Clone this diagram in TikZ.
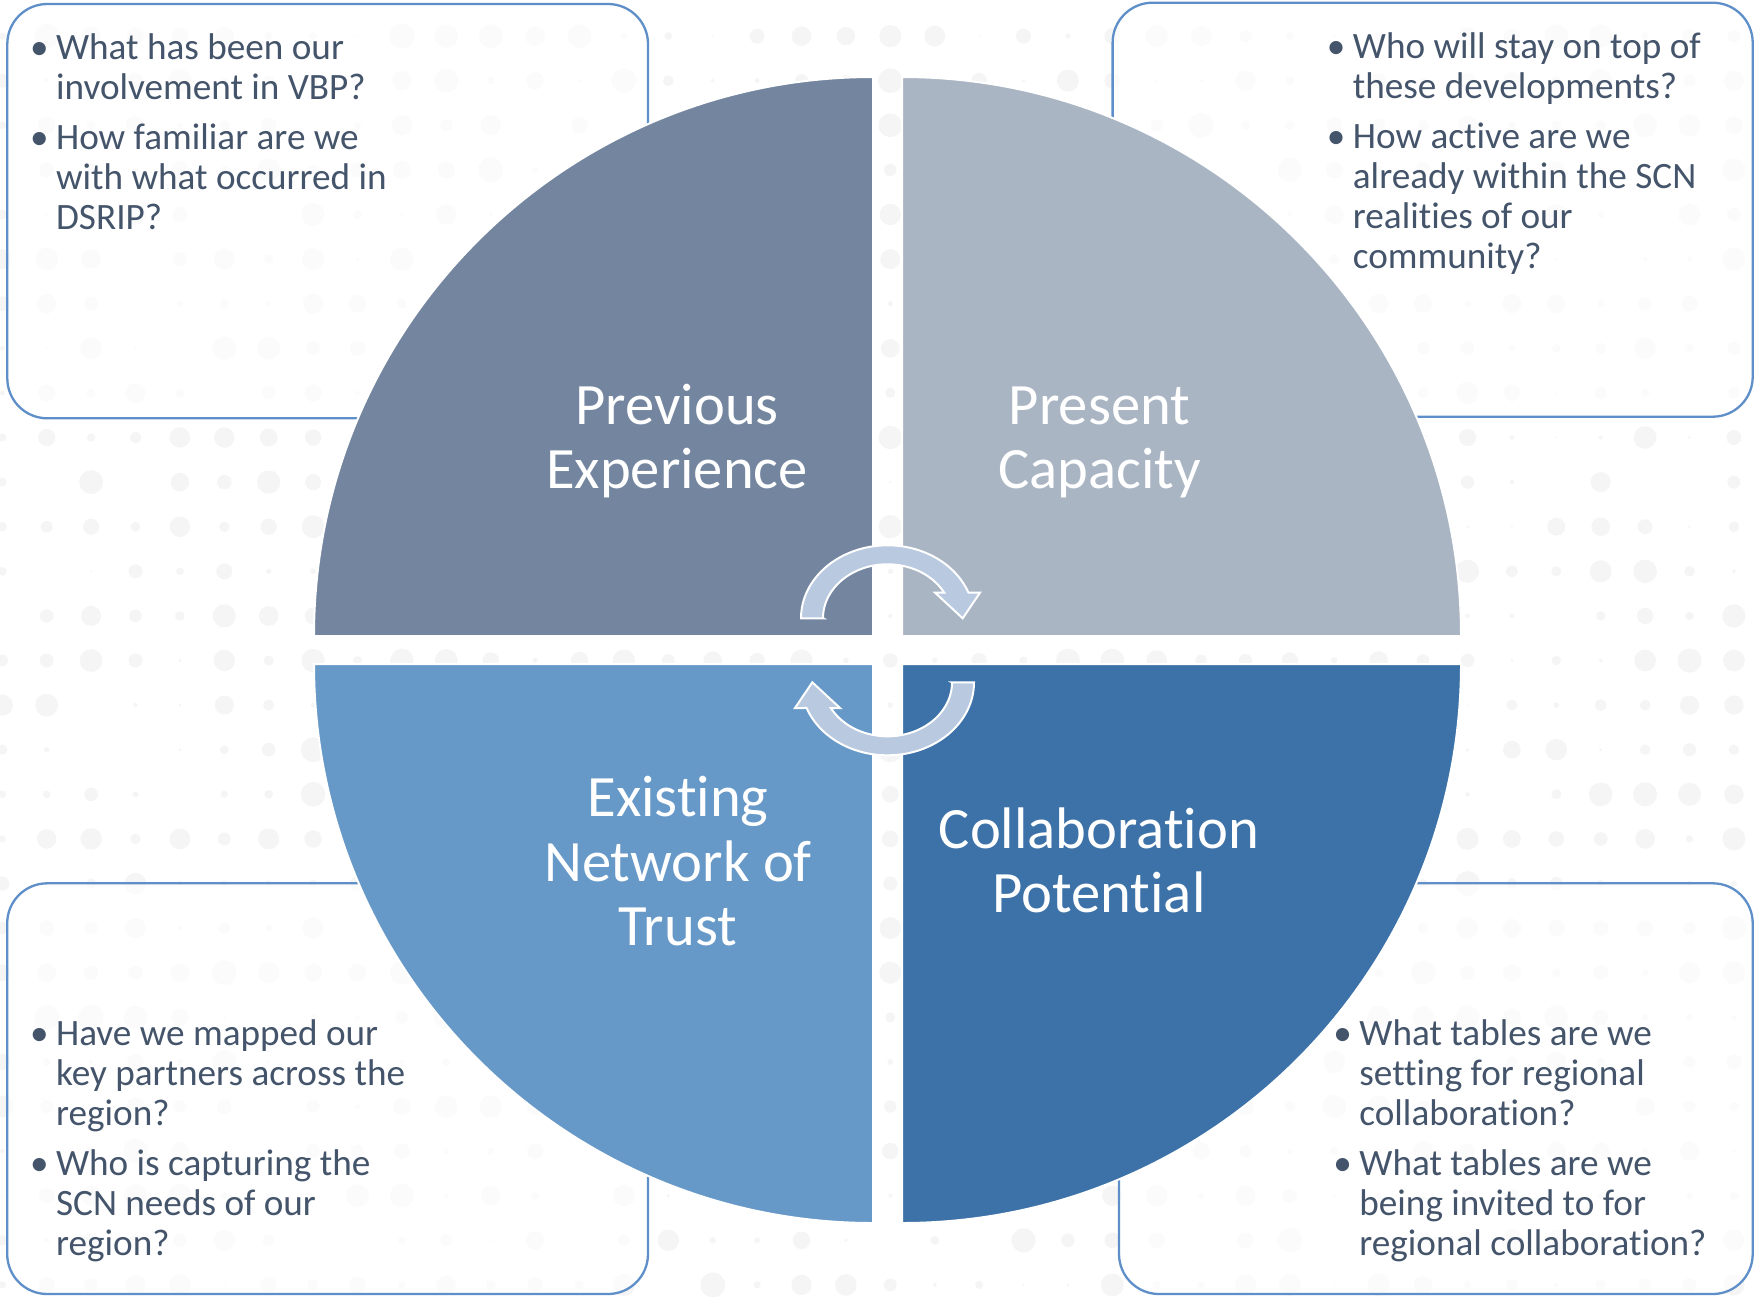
\documentclass[tikz,border=0pt]{standalone}
\usepackage{fontspec}
\setmainfont{Carlito}[Ligatures=NoCommon]
\definecolor{qslate}{HTML}{74869F}
\definecolor{qsilver}{HTML}{AAB5C4}
\definecolor{qsky}{HTML}{6799C8}
\definecolor{qnavy}{HTML}{3D72A8}
\definecolor{arrowfill}{HTML}{B8C9E0}
\definecolor{frameblue}{HTML}{5F8FC8}
\definecolor{bodytext}{HTML}{44546A}
\definecolor{dotgray}{HTML}{F5F5F5}

% question lists: one bullet per paragraph, manual line breaks
\newcommand{\qstyle}{\fontsize{18.6pt}{20pt}\selectfont\setlength{\parindent}{0pt}\setlength{\parskip}{5pt}}
\newcommand{\qitem}{\leavevmode\llap{\makebox[16.8pt][c]{•}}}
\newcommand{\qlist}[1]{\parbox[t]{300pt}{\qstyle #1}}
\newcommand{\qlabel}[1]{\begin{tabular}[t]{@{}c@{}}#1\end{tabular}}

\begin{document}
\begin{tikzpicture}[x=0.5pt,y=0.5pt,
  questionbox/.style={draw=frameblue, line width=1.15pt, fill=white, fill opacity=0.65, rounded corners=20pt},
  quarter/.style={draw=white, line width=1pt},
  quadlabel/.style={text=white, font=\fontsize{29.3pt}{32.3pt}\selectfont, inner sep=0pt, anchor=base},
  questions/.style={text=bodytext, inner sep=0pt, anchor=base west},
  cyclearrow/.style={fill=arrowfill, draw=white, line width=1pt, line join=miter},
  turnarrow/.pic={
    \filldraw[cyclearrow] (-64.5,0) -- (-86.5,0)
      arc[start angle=180, end angle=20.6, x radius=86.5, y radius=73]
      -- (92.5,25.7) -- (75.2,0) -- (47.5,25.7) -- (56.7,25.7)
      arc[start angle=28.4, end angle=180, x radius=64.5, y radius=54] -- cycle;
  }
]
\useasboundingbox (0,0) rectangle (1754,-1296);
\fill[white] (0,0) rectangle (1754,-1296);

% dotted backdrop
\pgfmathsetseed{4242}
\foreach \i in {0,...,39}{
  \foreach \j in {0,...,28}{
    \pgfmathsetmacro{\dotrad}{12.5*rnd}
    \fill[dotgray] (2.3+44.4*\i,-36.1-44.6*\j) circle[radius=\dotrad];
  }
}

% question frames
\draw[questionbox] (7.3,-4) rectangle (648,-418.3);
\draw[questionbox] (1112.6,-2.7) rectangle (1752.7,-416.7);
\draw[questionbox] (7.2,-883.3) rectangle (648,-1294);
\draw[questionbox] (1119,-883.3) rectangle (1752.7,-1294);

% question lists
\node[questions] (qtl) at (55.7,-59.5) {\qlist{\qitem What has been our\\involvement in VBP?\par
  \qitem How familiar are we\\with what occurred in\\DSRIP?}};
\node[questions] (qtr) at (1352.5,-58) {\qlist{\qitem Who will stay on top of\\these developments?\par
  \qitem How active are we\\already within the SCN\\realities of our\\community?}};
\node[questions] (qbl) at (55.7,-1045) {\qlist{\qitem Have we mapped our\\key partners across the\\region?\par
  \qitem Who is capturing the\\SCN needs of our\\region?}};
\node[questions] (qbr) at (1359,-1045) {\qlist{\qitem What tables are we\\setting for regional\\collaboration?\par
  \qitem What tables are we\\being invited to for\\regional collaboration?}};

% the four quarters of the disc
\coordinate (cTL) at (873,-636);
\coordinate (cTR) at (902,-636);
\coordinate (cBL) at (873,-664);
\coordinate (cBR) at (902,-664);
\filldraw[quarter, fill=qslate] (cTL) -- ++(-559,0) arc[start angle=180, end angle=90, radius=559] -- cycle;
\filldraw[quarter, fill=qsilver] (cTR) -- ++(0,559) arc[start angle=90, end angle=0, radius=559] -- cycle;
\filldraw[quarter, fill=qsky] (cBL) -- ++(-559,0) arc[start angle=180, end angle=270, radius=559] -- cycle;
\filldraw[quarter, fill=qnavy] (cBR) -- ++(559,0) arc[start angle=0, end angle=-90, radius=559] -- cycle;

% quarter titles
\node[quadlabel] (prev) at (677,-424) {\qlabel{Previous\\Experience}};
\node[quadlabel] (pres) at (1099.5,-424) {\qlabel{Present\\Capacity}};
\node[quadlabel] (trust) at (678,-816.5) {\qlabel{Existing\\Network of\\Trust}};
\node[quadlabel] (collab) at (1099,-848) {\qlabel{Collaboration\\Potential}};

% cycle arrows in the middle
\pic at (887.5,-618.3) {turnarrow};
\pic[rotate=180] at (887.5,-682.3) {turnarrow};
\end{tikzpicture}
\end{document}
